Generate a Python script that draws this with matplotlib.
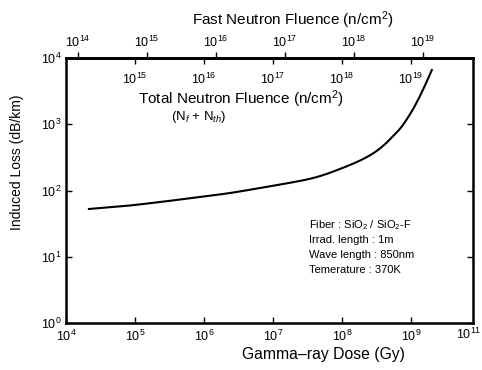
import numpy as np
import matplotlib
matplotlib.use("Agg")
import matplotlib.pyplot as plt
from matplotlib.ticker import FixedLocator, FixedFormatter, NullLocator

plt.rcParams['font.family'] = ['Liberation Sans', 'DejaVu Sans']
plt.rcParams['mathtext.fontset'] = 'custom'
plt.rcParams['mathtext.rm'] = 'Liberation Sans'
plt.rcParams['mathtext.it'] = 'Liberation Sans:italic'
plt.rcParams['mathtext.bf'] = 'Liberation Sans:bold'

# Data
gamma_dose = [2.15e4, 7.2e4, 2.3e5, 8.7e5, 2.38e6, 6.5e6, 1.4e7, 4.35e7,
              1.31e8, 2.55e8, 3.93e8, 5.48e8, 7.4e8, 1.07e9, 1.49e9, 2.01e9]
induced_loss = [52.6, 58.4, 67, 79.8, 91.6, 109, 125, 160,
                243, 340, 470, 660, 930, 1680, 3290, 6590]

x_ticks = [1e4, 1e5, 1e6, 1e7, 1e8, 1e9]
x_labels = ['10$^4$', '10$^5$', '10$^6$', '10$^7$', '10$^8$', '10$^9$']
x_extra_label = '10$^{11}$'
y_ticks = [1e0, 1e1, 1e2, 1e3, 1e4]
y_labels = ['10$^0$', '10$^1$', '10$^2$', '10$^3$', '10$^4$']
fast_ticks = [1e14, 1e15, 1e16, 1e17, 1e18, 1e19]
fast_labels = ['10$^{14}$', '10$^{15}$', '10$^{16}$', '10$^{17}$', '10$^{18}$', '10$^{19}$']
total_ticks = [1e15, 1e16, 1e17, 1e18, 1e19]
total_labels = ['10$^{15}$', '10$^{16}$', '10$^{17}$', '10$^{18}$', '10$^{19}$']
fast_factor = 10 ** 9.83
total_factor = 1e10

info_lines = ['Fiber : SiO$_2$ / SiO$_2$-F', 'Irrad. length : 1m',
              'Wave length : 850nm', 'Temerature : 370K']

W, H = 482, 370
fig = plt.figure(figsize=(W / 100, H / 100), dpi=100)
L, R, T, B = 66, 473, 58, 323
ax = fig.add_axes([L / W, 1 - B / H, (R - L) / W, (B - T) / H])

# smooth the drawn line through the read points (Catmull-Rom in log space)
lx = np.log10(gamma_dose)
ly = np.log10(induced_loss)
n = len(lx)
pts = np.column_stack([lx, ly])
P = np.vstack([pts[0] - (pts[1] - pts[0]), pts, pts[-1] + (pts[-1] - pts[-2])])
curve = []
for i in range(1, n):
    p0, p1, p2, p3 = P[i - 1], P[i], P[i + 1], P[i + 2]
    for s in np.linspace(0, 1, 30, endpoint=False):
        s2, s3 = s * s, s * s * s
        c = 0.5 * ((2 * p1) + (-p0 + p2) * s + (2 * p0 - 5 * p1 + 4 * p2 - p3) * s2
                   + (-p0 + 3 * p1 - 3 * p2 + p3) * s3)
        curve.append(c)
curve.append(pts[-1])
curve = np.array(curve)
ax.plot(10 ** curve[:, 0], 10 ** curve[:, 1], color='black', lw=1.5)

ax.set_xscale('log')
ax.set_yscale('log')
ax.set_xlim(1e4, 10 ** 9.9)
ax.set_ylim(1, 1e4)

for s in ax.spines.values():
    s.set_linewidth(1.8)

ax.xaxis.set_major_locator(FixedLocator(x_ticks))
ax.xaxis.set_major_formatter(FixedFormatter(x_labels))
ax.yaxis.set_major_locator(FixedLocator(y_ticks))
ax.yaxis.set_major_formatter(FixedFormatter(y_labels))
ax.xaxis.set_minor_locator(NullLocator())
ax.yaxis.set_minor_locator(NullLocator())
ax.tick_params(axis='both', which='major', direction='in', length=4, width=1,
               labelsize=9, right=True)
ax.tick_params(axis='x', pad=4)
ax.tick_params(axis='y', pad=3)

# extra label at right end of bottom axis
fig.text(481 / W, 1 - 327 / H, x_extra_label, ha='right', va='top', fontsize=9)

# Fast neutron fluence (outer top axis)
sec_fast = ax.secondary_xaxis('top', functions=(lambda x: x * fast_factor,
                                                lambda x: x / fast_factor))
sec_fast.set_xscale('log')
sec_fast.xaxis.set_major_locator(FixedLocator(fast_ticks))
sec_fast.xaxis.set_major_formatter(FixedFormatter(fast_labels))
sec_fast.xaxis.set_minor_locator(NullLocator())
sec_fast.tick_params(direction='out', length=4, width=1, labelsize=9, pad=2)
sec_fast.spines['top'].set_linewidth(1.8)

# Total neutron fluence (inner top axis)
sec_total = ax.secondary_xaxis('top', functions=(lambda x: x * total_factor,
                                                 lambda x: x / total_factor))
sec_total.set_xscale('log')
sec_total.xaxis.set_major_locator(FixedLocator(total_ticks))
sec_total.xaxis.set_major_formatter(FixedFormatter(total_labels))
sec_total.xaxis.set_minor_locator(NullLocator())
sec_total.tick_params(direction='in', length=4, width=1, labelsize=9, pad=-21)
sec_total.spines['top'].set_linewidth(1.8)

fig.text(293 / W, 1 - 20 / H, 'Fast Neutron Fluence (n/cm$^2$)', ha='center',
         va='center', fontsize=11)
fig.text(241 / W, 1 - 99 / H, 'Total Neutron Fluence (n/cm$^2$)', ha='center',
         va='center', fontsize=11)
fig.text(199 / W, 1 - 117 / H, '(N$_f$ + N$_{th}$)', ha='center', va='center',
         fontsize=9.5)
fig.text(323 / W, 1 - 355 / H, 'Gamma\u2013ray Dose (Gy)', ha='center',
         va='center', fontsize=11.3)
fig.text(17 / W, 1 - 162 / H, 'Induced Loss (dB/km)', ha='center',
         va='center', rotation=90, fontsize=10)

for i, line in enumerate(info_lines):
    fig.text(309 / W, 1 - (225 + 15 * i) / H, line, ha='left', va='center',
             fontsize=8)

fig.savefig('out.png', dpi=100)
